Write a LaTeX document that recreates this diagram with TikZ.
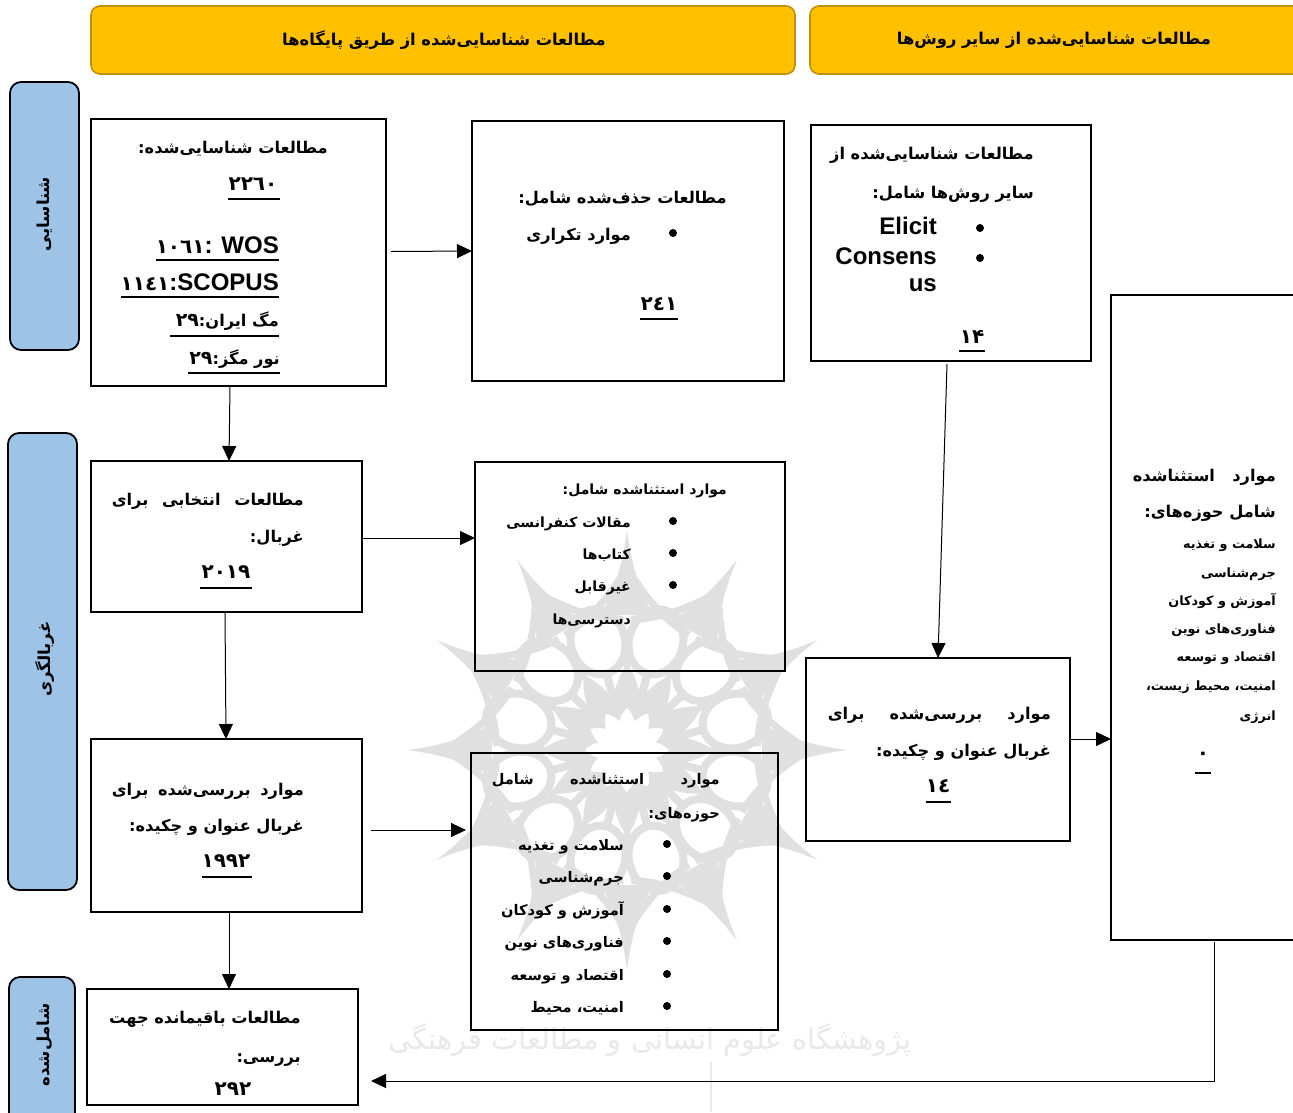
\documentclass[tikz,border=0pt]{standalone}
\usepackage{fontspec}
\usetikzlibrary{arrows.meta}
\setmainfont{Liberation Sans}
\newfontfamily\farsi[Script=Arabic]{DejaVu Sans}
\TeXXeTstate=1
\definecolor{hdr}{HTML}{FFC000}
\definecolor{hdrline}{HTML}{BF9000}
\definecolor{side}{HTML}{9DC3E6}
\definecolor{wm}{HTML}{E0E0E0}
\definecolor{wmtx}{HTML}{E9E9E9}
\newcommand{\fa}[1]{\beginR #1\endR}
\newcommand{\faj}[2]{\hbox to #1{\beginR #2\endR}}
\newcommand{\dg}[1]{\beginL{\fontsize{19}{19}\selectfont #1}\endL}
\tikzset{
 box/.style={draw=black,line width=1.9pt,anchor=north west,inner sep=0pt,outer sep=0pt},
 header/.style={draw=hdrline,fill=hdr,line width=1.6pt,rounded corners=9pt,anchor=north west,inner sep=0pt,outer sep=0pt},
 sidebar/.style={draw=black,fill=side,line width=1.8pt,rounded corners=11pt,anchor=north west,inner sep=0pt,outer sep=0pt},
 txt/.style={inner sep=0pt,text height=14pt,text depth=2pt,font=\farsi\bfseries\fontsize{16.2}{16.2}\selectfont},
 sm/.style={inner sep=0pt,text height=11.5pt,text depth=2.5pt,font=\farsi\bfseries\fontsize{12.8}{12.8}\selectfont},
 lat/.style={inner sep=0pt,text height=19pt,text depth=4pt,font=\bfseries\fontsize{24}{24}\selectfont},
 re/.style={txt,anchor=east},
 rf/.style={re,font=\farsi\bfseries\fontsize{14}{14}\selectfont},
 ri/.style={re,font=\farsi\bfseries\fontsize{14.6}{14.6}\selectfont},
 rs/.style={sm,anchor=east},
 rl/.style={lat,anchor=east},
 cen/.style={inner sep=0pt,text height=16pt,text depth=1pt,anchor=center,font=\farsi\bfseries\fontsize{20}{20}\selectfont},
 hd/.style={inner sep=0pt,font=\farsi\bfseries\fontsize{16.3}{16.3}\selectfont},
 sidetxt/.style={inner sep=0pt,rotate=90,font=\farsi\bfseries\fontsize{16.5}{16.5}\selectfont},
 arr/.style={draw=black,line width=1pt,-{Triangle[length=15pt,width=14pt]}},
 ul/.style={draw=black,line width=1.8pt},
 dotm/.style={fill=black,circle,inner sep=0pt,minimum size=8pt},
}
\begin{document}
\begin{tikzpicture}[x=1pt,y=-1pt]
\useasboundingbox (0,0) rectangle (1293,1112);
% watermark rosette
\begin{scope}[shift={(627,750)}]
 \foreach \a in {0,30,...,330}{
  \begin{scope}[rotate=\a]
   \fill[wm] (135,-26) .. controls (165,-10) and (190,-4) .. (220,0) .. controls (190,4) and (165,10) .. (135,26) -- cycle;
   \draw[wm,line width=7pt] (176,-4) .. controls (148,-22) and (128,-40) .. (115,-62);
   \draw[wm,line width=7pt] (176,4) .. controls (148,22) and (128,40) .. (115,62);
   \begin{scope}[rotate=15]
    \draw[wm,line width=8pt] (112,0) ellipse (33 and 27);
    \draw[wm,line width=8pt] (45,0) -- (78,0);
   \end{scope}
   \fill[wm] (34,-11) .. controls (50,-16) and (66,-12) .. (82,-3) -- (82,3) .. controls (66,12) and (50,16) .. (34,11) -- cycle;
   \draw[wm,line width=6pt] (72,0) -- (90,0);
  \end{scope}}
 \fill[wm] (0,0) circle (40);
 \foreach \a in {0,30,...,330}{\fill[white,rotate=\a] (14,-9) .. controls (30,-10) and (38,-4) .. (42,0) .. controls (38,4) and (30,10) .. (14,9) -- cycle;}
 \fill[white] (0,0) circle (18);
\end{scope}
\node[inner sep=0pt,text=wmtx,font=\farsi\fontsize{29}{29}\selectfont] (wmtext) at (650,1040) {\fa{پژوهشگاه علوم انسانی و مطالعات فرهنگی}};
\coordinate (wmtop) at (711,1062);
\coordinate (wmbot) at (711,1112);
\draw[wmtx,line width=1.5pt] (wmtop) -- (wmbot);
% headers
\node[header,minimum width=704pt,minimum height=68pt] (h1) at (91,6) {};
\node[hd] (h1t) at (444,40) {\fa{مطالعات شناسایی‌شده از طریق پایگاه‌ها}};
\node[header,minimum width=500pt,minimum height=68pt] (h2) at (810,6) {};
\node[hd] (h2t) at (1054,40) {\fa{مطالعات شناسایی‌شده از سایر روش‌ها}};
% side bars
\node[sidebar,minimum width=69pt,minimum height=268pt] (s1) at (10,82) {};
\node[sidetxt] (s1t) at (45,214) {\fa{شناسایی}};
\node[sidebar,minimum width=69pt,minimum height=457pt] (s2) at (8,433) {};
\node[sidetxt] (s2t) at (45,659) {\fa{غربالگری}};
\node[sidebar,minimum width=66pt,minimum height=160pt] (s3) at (9,977) {};
\node[sidetxt] (s3t) at (45,1045) {\fa{شامل‌شده}};
% boxes
\node[box,minimum width=295pt,minimum height=267pt] (A) at (91,119) {};
\node[box,minimum width=312pt,minimum height=260pt] (B) at (472,121) {};
\node[box,minimum width=280pt,minimum height=236pt] (C) at (811,125) {};
\node[box,minimum width=200pt,minimum height=645pt] (D) at (1111,295) {};
\node[box,minimum width=271pt,minimum height=151pt] (E) at (91,461) {};
\node[box,minimum width=310pt,minimum height=209pt] (F) at (475,462) {};
\node[box,minimum width=264pt,minimum height=183pt] (G) at (806,658) {};
\node[box,minimum width=271pt,minimum height=173pt] (H) at (91,739) {};
\node[box,minimum width=307pt,minimum height=277pt] (I) at (471,753) {};
\node[box,minimum width=271pt,minimum height=116pt] (J) at (87,989) {};
% box A
\node[re] (a1) at (328,147) {\fa{مطالعات شناسایی‌شده:}};
\node[cen] (a2) at (253,183) {۲۲٦۰};
\draw[ul] (228,199) -- (280,199);
\node[rl] (a3) at (279,246) {{\farsi\fontsize{20}{20}\selectfont ۱۰٦۱}: WOS};
\draw[ul] (156,260) -- (279,260);
\node[rl] (a4) at (279,283) {{\farsi\fontsize{20}{20}\selectfont ۱۱٤۱}:SCOPUS};
\draw[ul] (121,297) -- (279,297);
\node[re] (a5) at (279,320) {\fa{مگ ایران:\dg{۲۹}}};
\draw[ul] (170,336) -- (279,336);
\node[re] (a6) at (280,358) {\fa{نور مگز:\dg{۲۹}}};
\draw[ul] (188,373) -- (280,373);
% box B
\node[re] (b1) at (727,197) {\fa{مطالعات حذف‌شده شامل:}};
\node[dotm] (b2d) at (673,233) {};
\node[re] (b2) at (631,234) {\fa{موارد تکراری}};
\node[cen] (b3) at (659,303) {۲٤۱};
\draw[ul] (640,319) -- (678,319);
% box C
\node[re] (c1) at (1034,153) {\fa{مطالعات شناسایی‌شده از}};
\node[re] (c2) at (1034,192) {\fa{سایر روش‌ها شامل:}};
\node[dotm] (c3d) at (980,228) {};
\node[rl] (c3) at (937,227) {Elicit};
\node[dotm] (c4d) at (980,258) {};
\node[rl] (c4) at (937,257) {Consens};
\node[rl] (c5) at (937,284) {us};
\node[cen] (c6) at (972,336) {۱۴};
\draw[ul] (959,351) -- (985,351);
% box D
\node[re] (d1) at (1276,475) {\faj{143pt}{موارد\hfil استثناشده}};
\node[re] (d2) at (1276,511) {\fa{شامل حوزه‌های:}};
\node[rs] (d3) at (1276,544) {\fa{سلامت و تغذیه}};
\node[rs] (d4) at (1276,573) {\fa{جرم‌شناسی}};
\node[rs] (d5) at (1276,601) {\fa{آموزش و کودکان}};
\node[rs] (d6) at (1276,629) {\fa{فناوری‌های نوین}};
\node[rs] (d7) at (1276,657) {\fa{اقتصاد و توسعه}};
\node[rs] (d8) at (1276,686) {\fa{امنیت، محیط زیست،}};
\node[rs] (d9) at (1276,716) {\fa{انرژی}};
\node[cen] (d10) at (1203,752) {۰};
\draw[ul] (1195,773) -- (1211,773);
% box E
\node[re] (e1) at (304,499) {\faj{192pt}{مطالعات\hfil انتخابی\hfil برای}};
\node[re] (e2) at (304,536) {\fa{غربال:}};
\node[cen] (e3) at (226,571) {۲۰۱۹};
\draw[ul] (200,588) -- (252,588);
% box F
\node[rf] (f1) at (727,488) {\fa{موارد استثناشده شامل:}};
\node[dotm] (f2d) at (673,521) {};
\node[rf] (f2) at (631,521) {\fa{مقالات کنفرانسی}};
\node[dotm] (f3d) at (673,553) {};
\node[rf] (f3) at (631,553) {\fa{کتاب‌ها}};
\node[dotm] (f4d) at (673,585) {};
\node[rf] (f4) at (631,585) {\fa{غیرقابل}};
\node[rf] (f5) at (631,618) {\fa{دسترسی‌ها}};
% box G
\node[re] (g1) at (1051,713) {\faj{223pt}{موارد\hfil بررسی‌شده\hfil برای}};
\node[re] (g2) at (1051,750) {\fa{غربال عنوان و چکیده:}};
\node[cen] (g3) at (938,785) {۱٤};
\draw[ul] (926,802) -- (951,802);
% box H
\node[re] (h3) at (304,789) {\faj{192pt}{موارد\hfil بررسی‌شده\hfil برای}};
\node[re] (h4) at (304,825) {\fa{غربال عنوان و چکیده:}};
\node[cen] (h5) at (226,860) {۱۹۹۲};
\draw[ul] (202,877) -- (252,877);
% box I
\node[ri] (i1) at (720,778) {\faj{228pt}{موارد\hfil استثناشده\hfil شامل}};
\node[ri] (i2) at (720,812) {\fa{حوزه‌های:}};
\node[dotm] (i3d) at (667,844) {};
\node[ri] (i3) at (624,844) {\fa{سلامت و تغذیه}};
\node[dotm] (i4d) at (667,876) {};
\node[ri] (i4) at (624,876) {\fa{جرم‌شناسی}};
\node[dotm] (i5d) at (667,909) {};
\node[ri] (i5) at (624,909) {\fa{آموزش و کودکان}};
\node[dotm] (i6d) at (667,941) {};
\node[ri] (i6) at (624,941) {\fa{فناوری‌های نوین}};
\node[dotm] (i7d) at (667,974) {};
\node[ri] (i7) at (624,974) {\fa{اقتصاد و توسعه}};
\node[dotm] (i8d) at (667,1006) {};
\node[ri] (i8) at (624,1006) {\fa{امنیت، محیط}};
% box J
\node[re] (j1) at (301,1017) {\fa{مطالعات باقیمانده جهت}};
\node[re] (j2) at (301,1056) {\fa{بررسی:}};
\node[cen] (j3) at (233,1088) {۲۹۲};
% connectors
\draw[arr] ([xshift=5pt,yshift=1pt]A.east) -- (B.west);
\draw[arr] ([xshift=-8.5pt]A.south) -- ([xshift=2.5pt]E.north);
\draw[arr] (E.east |- 0,538) -- (F.west |- 0,538);
\draw[arr] ([xshift=-1.5pt]E.south) -- ([xshift=-0.5pt]H.north);
\draw[arr] ([xshift=9pt]H.east |- 0,830) -- ([xshift=-5pt]I.west |- 0,830);
\draw[arr] ([xshift=2.5pt]H.south) -- ([xshift=6.5pt]J.north);
\draw[arr] ([xshift=-4pt,yshift=-3pt]C.south) -- (G.north);
\draw[arr] (G.east |- 0,739) -- (D.west |- 0,739);
\coordinate (dturn) at (1214,1081);
\draw[arr] ([yshift=-2pt]D.south west -| dturn) -- (dturn) -- ([xshift=13pt]J.east |- dturn);
\end{tikzpicture}
\end{document}
